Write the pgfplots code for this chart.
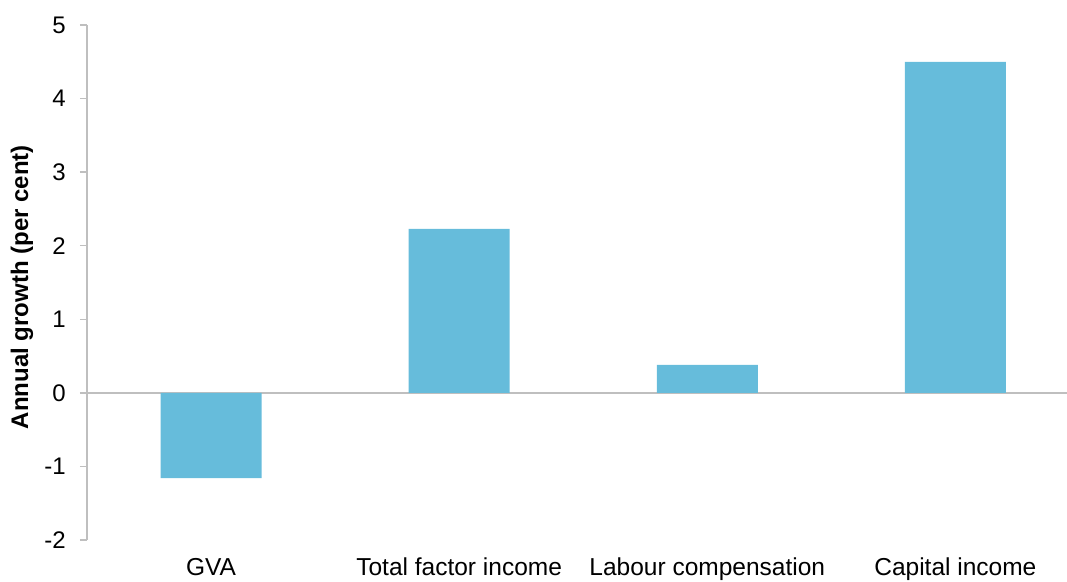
\documentclass[border=0pt]{standalone}
\usepackage{fontspec}
\setmainfont{Liberation Sans}
\usepackage{pgfplots}
\pgfplotsset{compat=1.18}
\definecolor{barblue}{RGB}{102,188,219}
\definecolor{axgray}{RGB}{191,191,191}
\begin{document}
\begin{tikzpicture}
\begin{axis}[
  width=980pt, height=515pt, scale only axis,
  xmin=-0.5, xmax=3.45, ymin=-2, ymax=5,
  axis y line*=left, axis x line*=bottom,
  x axis line style={draw=none},
  y axis line style={draw=axgray, line width=1.5pt, -},
  xtick={0,1,2,3},
  xticklabels={GVA, Total factor income, Labour compensation, Capital income},
  xtick style={draw=none},
  ytick={-2,-1,0,1,2,3,4,5},
  ytick style={draw=axgray, line width=1.5pt},
  tick align=outside, major tick length=7pt,
  /pgf/number format/assume math mode=true,
  yticklabel style={font=\fontsize{24}{28}\selectfont, inner sep=0pt, xshift=-14pt},
  xticklabel style={font=\fontsize{24.5}{29}\selectfont, inner sep=0pt, text height=18pt, text depth=5pt, anchor=north, yshift=-10pt},
  ylabel={Annual growth (per cent)},
  ylabel style={font=\bfseries\fontsize{24}{28}\selectfont, at={(axis description cs:-0.0663,0.491)}, anchor=center, rotate=0},
  clip=false,
]
\draw[axgray, line width=2pt] (axis cs:-0.5,0) -- (axis cs:3.45,0);
\addplot[ybar, bar width=101pt, fill=barblue, draw=none] coordinates {(0,-1.16) (1,2.23) (2,0.38) (3,4.50)};
\end{axis}
\pgfresetboundingbox
\path (current axis.south west) ++(-87pt,-41pt) rectangle ++(1067pt,581pt);
\end{tikzpicture}
\end{document}
